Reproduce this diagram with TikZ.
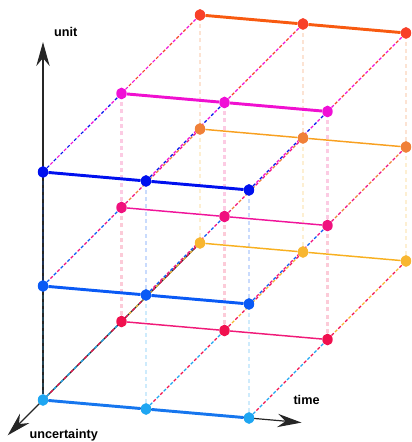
\documentclass[tikz,border=0pt]{standalone}
\usepackage{fontspec}
\setmainfont{Liberation Sans}
\usetikzlibrary{arrows.meta,shapes.geometric}

\pgfdeclarelayer{back}
\pgfsetlayers{back,main}

% dot colours (layer, level)
\definecolor{pt00}{HTML}{1EA6F2}
\definecolor{pt01}{HTML}{0A5AF5}
\definecolor{pt02}{HTML}{0010EE}
\definecolor{pt10}{HTML}{F0104E}
\definecolor{pt11}{HTML}{F0107E}
\definecolor{pt12}{HTML}{F010D6}
\definecolor{pt20}{HTML}{F8B630}
\definecolor{pt21}{HTML}{F08038}
\definecolor{pt22}{HTML}{F84028}
% line colours (layer, level)
\definecolor{ln00}{HTML}{1676EE}
\definecolor{ln01}{HTML}{0A5AF5}
\definecolor{ln02}{HTML}{0010EE}
\definecolor{ln10}{HTML}{F01A78}
\definecolor{ln11}{HTML}{F0149A}
\definecolor{ln12}{HTML}{F010D0}
\definecolor{ln20}{HTML}{F8B020}
\definecolor{ln21}{HTML}{F8A020}
\definecolor{ln22}{HTML}{F85A10}

\tikzset{
  gridpt/.style={ellipse, fill=#1, inner sep=0pt, minimum width=7.8pt, minimum height=8.8pt},
  axis/.style={black!85, line width=0.9pt, -{Stealth[length=18pt,width=10pt,inset=6pt]}},
  axislabel/.style={font=\bfseries\fontsize{9.5}{11}\selectfont},
  updash/.style={line width=1.6pt, opacity=0.22, dash pattern=on 3pt off 2.5pt},
  deepdash/.style={line width=0.8pt, dash pattern=on 2.4pt off 4.8pt},
}

% two-coloured dashed segment
\newcommand\twotone[4]{%
  \draw[deepdash, #3] (#1) -- (#2);
  \draw[deepdash, #4, dash phase=3.6pt] (#1) -- (#2);}

\begin{document}
\begin{tikzpicture}[x={(77.25pt,-6.75pt)}, y={(0pt,85.5pt)}, z={(58.875pt,58.875pt)}]
\useasboundingbox (-32.25pt,-31.5pt) rectangle (276pt,300pt);

% points (time, level, layer)
\foreach \d in {2,1,0}
  \foreach \l in {0,1,2}
    \foreach \t in {0,1,2}
      \node[gridpt=pt\d\l] (p\t\d\l) at (\t,\l,\d) {};

\coordinate (unittip) at (0,3.14,0);
\coordinate (timetip) at (2.51,0,0);
\coordinate (deeptip) at (0,0,-0.45);

\begin{pgfonlayer}{back}
  % axes
  \draw[axis] (p000) -- (unittip);
  \draw[axis] (p000) -- (timetip);
  \draw[axis] (p020) -- (deeptip);

  % verticals
  \foreach \d in {2,1,0}
    \foreach \t in {0,1,2} {
      \draw[updash, pt\d0] (p\t\d0) -- (p\t\d1);
      \draw[updash, pt\d1] (p\t\d1) -- (p\t\d2);
    }

  % depth lines
  \foreach \l in {0,1,2}
    \foreach \t in {0,1,2} {
      \twotone{p\t0\l}{p\t1\l}{pt0\l}{pt1\l}
      \twotone{p\t1\l}{p\t2\l}{pt1\l}{pt2\l}
    }

  % time lines
  \foreach \d/\l/\w in {2/0/1.1, 2/1/1.1, 2/2/2.2, 1/0/1.1, 1/1/1.1, 1/2/2.2, 0/0/2.2, 0/1/2.2, 0/2/2.2}
    \draw[ln\d\l, line width=\w pt] (p0\d\l) -- (p1\d\l) -- (p2\d\l);
\end{pgfonlayer}

\node[axislabel] (unitlbl) at ([xshift=17pt,yshift=7.5pt]unittip) {unit};
\node[axislabel] (timelbl) at ([xshift=3.75pt,yshift=17pt]timetip) {time};
\node[axislabel] (deeplbl) at ([xshift=42pt,yshift=0pt]deeptip) {uncertainty};
\end{tikzpicture}
\end{document}
